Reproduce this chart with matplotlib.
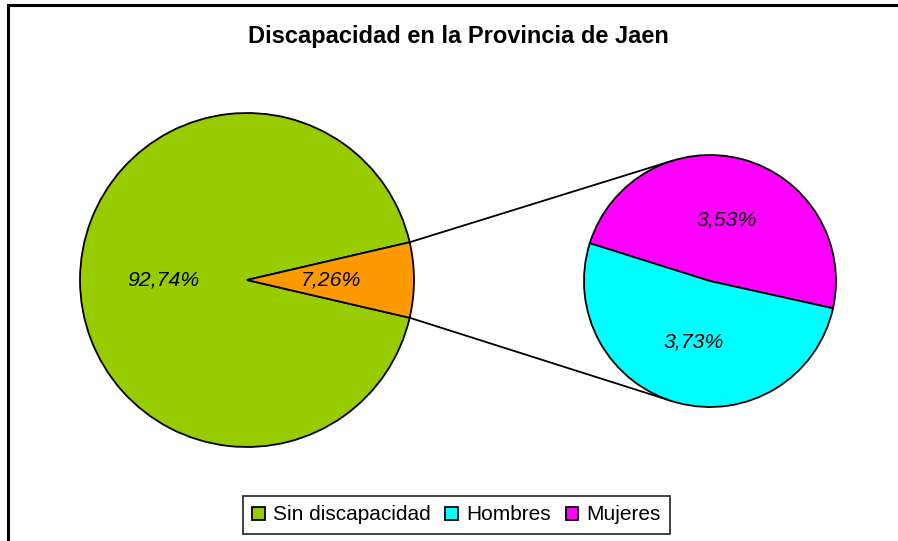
import numpy as np
import matplotlib
matplotlib.use("Agg")
import matplotlib.pyplot as plt
from matplotlib.patches import Rectangle

plt.rcParams['font.family'] = ['Liberation Sans', 'DejaVu Sans']

# ---- data ----
title = "Discapacidad en la Provincia de Jaen"
main_labels = ["Sin discapacidad", "Con discapacidad"]
main_values = [92.74, 7.26]
sub_labels = ["Mujeres", "Hombres"]
sub_values = [3.53, 3.73]
main_colors = ["#99CC00", "#FF9900"]
sub_colors = ["#FF00FF", "#00FFFF"]
legend_labels = ["Sin discapacidad", "Hombres", "Mujeres"]

def fmt(v):
    return f"{v:.2f}%".replace(".", ",")

W, H = 898, 541
fig = plt.figure(figsize=(W / 100, H / 100), dpi=100)
ax = fig.add_axes([0, 0, 1, 1])

# layout (pixel-like data coordinates, y up)
c1 = (247, 541 - 280); r1 = 167
c2 = (710, 541 - 281); r2 = 126

total_main = sum(main_values)
start1 = main_values[1] / total_main * 360 / 2
w1, t1, a1 = ax.pie(main_values, colors=main_colors, startangle=start1,
                    center=c1, radius=r1, counterclock=True,
                    autopct=lambda p: fmt(p * total_main / 100), pctdistance=0.5,
                    wedgeprops=dict(edgecolor="black", linewidth=1.3),
                    textprops=dict(fontsize=15.3, style="italic", color="black"),
                    frame=True)

total_sub = sum(sub_values)
w2, t2, a2 = ax.pie(sub_values, colors=sub_colors, startangle=-12.5,
                    center=c2, radius=r2, counterclock=True,
                    autopct=lambda p: fmt(p * total_sub / 100), pctdistance=0.5,
                    wedgeprops=dict(edgecolor="black", linewidth=1.3),
                    textprops=dict(fontsize=15.3, style="italic", color="black"),
                    frame=True)

# connector lines: from orange wedge edges to tangent points of the second pie
ow = w1[1]
for ang, sign in [(ow.theta1, -1), (ow.theta2, 1)]:
    p = np.array(c1) + r1 * np.array([np.cos(np.radians(ang)), np.sin(np.radians(ang))])
    v = p - np.array(c2)
    d = np.hypot(*v)
    base = np.degrees(np.arctan2(v[1], v[0]))
    off = np.degrees(np.arccos(r2 / d))
    ta = base - sign * off
    q = np.array(c2) + r2 * np.array([np.cos(np.radians(ta)), np.sin(np.radians(ta))])
    ax.plot([p[0], q[0]], [p[1], q[1]], color="black", lw=1.3, zorder=0.5)

ax.set_xlim(0, W)
ax.set_ylim(0, H)
ax.set_aspect("equal")
ax.axis("off")

# chart frame (top and left visible)
ax.add_patch(Rectangle((8, -20), W + 20, (H - 5) + 20, fill=False,
                       edgecolor="black", lw=2.2, clip_on=False))

ax.text(458.5, H - 36, title, ha="center", va="center",
        fontsize=17, fontweight="bold")

handles = [w1[0], w2[1], w2[0]]
leg = ax.legend(handles, legend_labels, loc="center", ncol=3,
                bbox_to_anchor=(456.5, H - 515), bbox_transform=ax.transData,
                fontsize=15, frameon=True, fancybox=False,
                handlelength=0.6, handleheight=0.6, handletextpad=0.4,
                columnspacing=0.7, borderpad=0.45)
leg.get_frame().set_edgecolor("black")
leg.get_frame().set_linewidth(1.3)

fig.savefig("out.png", dpi=100)
